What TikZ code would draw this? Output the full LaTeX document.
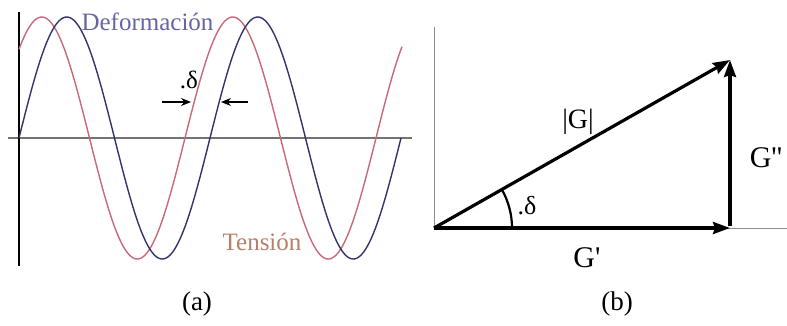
\documentclass[tikz,border=0pt]{standalone}
\usepackage{fontspec}
\setmainfont{Liberation Serif}
\newfontfamily\plainserif[Ligatures=TeXOff]{Liberation Serif}
\usetikzlibrary{arrows.meta,calc}
\definecolor{defcol}{HTML}{33336E}
\definecolor{tencol}{HTML}{C8687A}
\definecolor{deftxt}{HTML}{6565A5}
\definecolor{tentxt}{HTML}{B87E66}
\tikzset{
  lbl/.style={inner sep=0pt, anchor=base},
  axisA/.style={line width=1.4pt},
  axisB/.style={line width=0.9pt, color=black!45},
  vec/.style={line width=3.2pt, -{Stealth[length=17pt,width=12pt,inset=2pt]}},
  smallarr/.style={line width=1.3pt, -{Stealth[length=10pt,width=8pt]}},
  wave/.style={line width=1.4pt}
}
\begin{document}
\begin{tikzpicture}[x=1pt,y=-1pt]
\useasboundingbox (0,0) rectangle (787,325);
% ---- panel (a)
\draw[axisA, black!55] (8,138) -- (412,138);
\draw[axisA] (19,12) -- (19,266);
\draw[wave, tencol] plot[domain=19:402, samples=240, smooth] (\x, {138-121*sin(1.8848*(\x+6))});
\draw[wave, defcol] plot[domain=19:401, samples=240, smooth] (\x, {138-121*sin(1.8848*(\x-19))});
\node[lbl, text=deftxt, font=\fontsize{25}{28}\selectfont] (def) at (147.5,30) {Deformación};
\node[lbl, text=tentxt, font=\fontsize{25}{28}\selectfont] (ten) at (262,250) {Tensión};
\node[lbl, font=\fontsize{25}{28}\selectfont] (da) at (189,88) {.δ};
\coordinate (l1) at (162,102);
\coordinate (l2) at (191,102);
\coordinate (r1) at (248,102);
\coordinate (r2) at (221,102);
\draw[smallarr] (l1) -- (l2);
\draw[smallarr] (r1) -- (r2);
\node[lbl, font=\fontsize{27}{30}\selectfont] (capa) at (197,310) {(a)};
% ---- panel (b)
\coordinate (O) at (434,228);
\coordinate (P) at (730,228);
\coordinate (Q) at (730,60);
\coordinate (Ytop) at (434,27);
\coordinate (Xend) at (787,228);
\draw[axisB] (Ytop) -- (O) -- (Xend);
\draw[line width=2.2pt] ($(O)+(78,0)$) arc[start angle=0, end angle=-29.8, radius=78];
\draw[vec] (O) -- (P);
\draw[vec] ([yshift=1.6pt]P) -- (Q);
\draw[vec] (O) -- (Q);
\node[lbl, font=\fontsize{28}{32}\selectfont] (Gabs) at (578,128) {|G|};
\node[lbl, font=\plainserif\fontsize{30}{32}\selectfont] (Gpp) at (766,167) {G''};
\node[lbl, font=\plainserif\fontsize{30}{32}\selectfont] (Gp) at (587,267) {G'};
\node[lbl, font=\fontsize{26}{28}\selectfont] (db) at (527,214) {.δ};
\node[lbl, font=\fontsize{27}{30}\selectfont] (capb) at (617,310) {(b)};
\end{tikzpicture}
\end{document}
